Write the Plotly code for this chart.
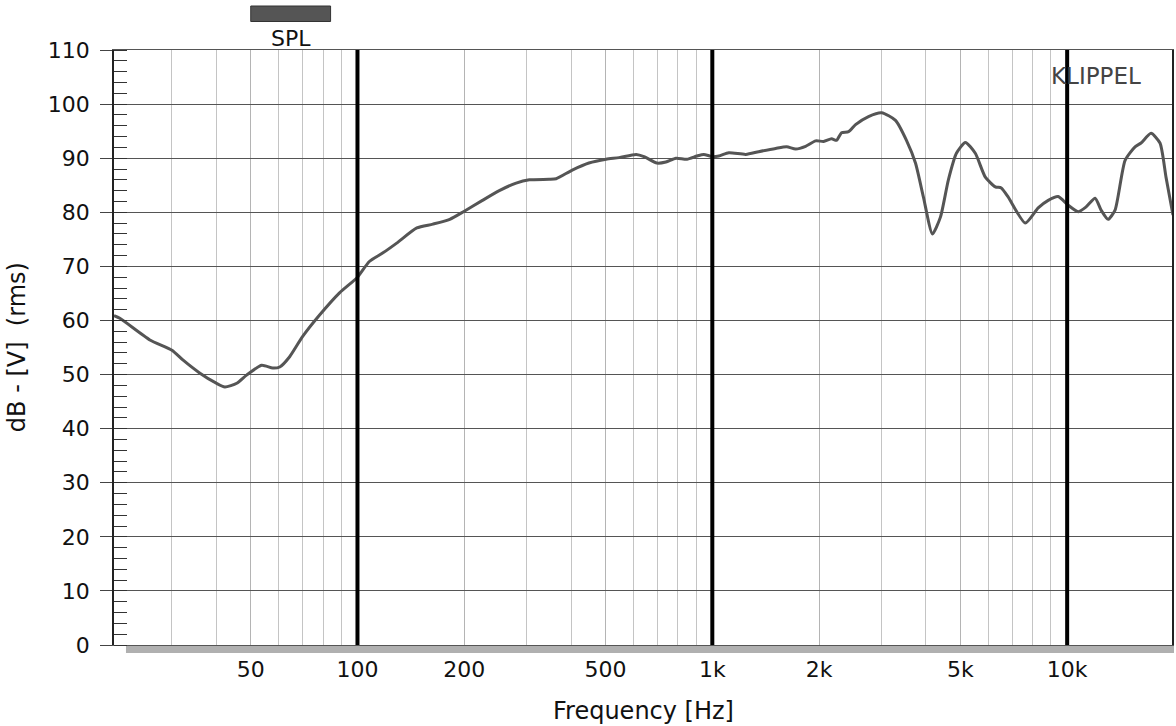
import math
import plotly.graph_objects as go

# ---- data ----
FREQ_HZ = [20.6, 21.4, 26.0, 30.0, 32.2, 35.9, 40.0, 42.3, 45.7, 48.7,
           53.7, 57.7, 60.4, 64.4, 70.0, 78.2, 89.0, 100, 108, 118,
           129, 147, 163, 182, 200, 225, 251, 280, 305, 347,
           363, 403, 449, 502, 546, 610, 642, 698, 740, 790,
           848, 905, 946, 997, 1043, 1113, 1243, 1351, 1509, 1620,
           1718, 1832, 1955, 2059, 2168, 2240, 2313, 2421, 2533, 2755,
           3000, 3283, 3525, 3737, 3935, 4172, 4394, 4627, 4874, 5166,
           5510, 5880, 6274, 6521, 6823, 7620, 8286, 8843, 9434, 10066,
           10740, 11308, 11991, 12463, 13041, 13646, 14563, 15535, 16152, 17233,
           18266, 18991, 19870]
SPL_DB = [60.9, 60.4, 56.4, 54.5, 52.7, 50.3, 48.4, 47.7, 48.4, 49.9,
          51.7, 51.2, 51.4, 53.3, 57.0, 61.0, 65.1, 68.0, 70.9, 72.5,
          74.3, 77.1, 77.8, 78.7, 80.2, 82.2, 84.0, 85.4, 86.0, 86.1,
          86.2, 87.8, 89.1, 89.8, 90.1, 90.7, 90.3, 89.1, 89.3, 90.0,
          89.8, 90.4, 90.7, 90.3, 90.4, 91.0, 90.7, 91.2, 91.8, 92.1,
          91.7, 92.2, 93.2, 93.1, 93.6, 93.3, 94.7, 94.9, 96.2, 97.7,
          98.4, 97.0, 93.3, 89.1, 82.8, 76.0, 79.1, 86.0, 90.9, 92.9,
          90.9, 86.5, 84.7, 84.5, 82.8, 78.0, 80.8, 82.2, 82.9, 81.3,
          80.1, 81.0, 82.6, 80.4, 78.7, 80.4, 89.6, 92.1, 92.8, 94.6,
          92.8, 86.5, 79.5]

X_TICK_VALS = [50, 100, 200, 500, 1000, 2000, 5000, 10000]
X_TICK_TEXT = ["50", "100", "200", "500", "1k", "2k", "5k", "10k"]
X_MINOR_VALS = [30, 40, 60, 70, 80, 90,
                300, 400, 600, 700, 800, 900,
                3000, 4000, 6000, 7000, 8000, 9000]
DECADE_LINES = [100, 1000, 10000]
X_RANGE_HZ = [20.6, 19745]
Y_RANGE = [0, 110]

SERIES_NAME = "SPL"
FONT = "DejaVu Sans"
CURVE_COLOR = "#555555"

W, H = 1176, 726
ML, MR, MT, MB = 114, 2, 50, 81
PW, PH = W - ML - MR, H - MT - MB


def px(xp):
    return (xp - ML) / PW


def py(yp):
    return (H - MB - yp) / PH


fig = go.Figure()

fig.add_trace(go.Scatter(
    x=FREQ_HZ, y=SPL_DB, mode="lines", name=SERIES_NAME,
    line=dict(color=CURVE_COLOR, width=3, shape="spline", smoothing=0.6),
    showlegend=False, hoverinfo="skip"))

# decade grid lines (thick black), drawn above the curve
dx, dy = [], []
for f in DECADE_LINES:
    dx += [f, f, None]
    dy += [Y_RANGE[0], Y_RANGE[1], None]
fig.add_trace(go.Scatter(x=dx, y=dy, mode="lines",
                         line=dict(color="#000000", width=4),
                         showlegend=False, hoverinfo="skip"))

fig.update_layout(
    width=W, height=H,
    margin=dict(l=ML, r=MR, t=MT, b=MB, pad=0),
    paper_bgcolor="white", plot_bgcolor="white",
    font=dict(family=FONT, size=22, color="#111111"),
    xaxis=dict(
        type="log",
        range=[math.log10(X_RANGE_HZ[0]), math.log10(X_RANGE_HZ[1])],
        tickvals=X_TICK_VALS, ticktext=X_TICK_TEXT,
        ticks="", ticklabelstandoff=5,
        showgrid=True, gridcolor="#b4b4b4", gridwidth=1,
        minor=dict(tickvals=X_MINOR_VALS, showgrid=True,
                   gridcolor="#c4c4c4", gridwidth=1, ticks=""),
        showline=True, linecolor="#555555", linewidth=1, mirror=True,
        zeroline=False,
        tickfont=dict(family=FONT, size=22, color="#111111"),
    ),
    yaxis=dict(
        range=Y_RANGE, dtick=10, tick0=0,
        ticks="outside", ticklen=12, tickcolor="#444444", tickwidth=1,
        ticklabelstandoff=6,
        showgrid=True, gridcolor="#555555", gridwidth=1,
        minor=dict(dtick=2, ticks="inside", ticklen=13,
                   tickcolor="#333333", tickwidth=1, showgrid=False),
        showline=True, linecolor="#222222", linewidth=1.5, mirror=True,
        zeroline=False,
        tickfont=dict(family=FONT, size=22, color="#111111"),
    ),
    showlegend=False,
)

# gray band under the x axis
fig.add_shape(type="rect", xref="paper", yref="paper",
              x0=px(126), x1=px(1176), y0=py(653), y1=py(645),
              fillcolor="#b0b0b0", line=dict(width=0), layer="below")

# legend swatch
fig.add_shape(type="rect", xref="paper", yref="paper",
              x0=px(251), x1=px(331), y0=py(21.5), y1=py(6),
              fillcolor="#555555", line=dict(color="#333333", width=1))
fig.add_annotation(text=SERIES_NAME, xref="paper", yref="paper",
                   x=px(291), y=py(38), xanchor="center", yanchor="middle",
                   showarrow=False, font=dict(family=FONT, size=22, color="#111111"))

fig.add_annotation(text="KLIPPEL", xref="paper", yref="paper",
                   x=px(1098), y=py(76), xanchor="center", yanchor="middle",
                   showarrow=False, font=dict(family=FONT, size=23, color="#444444"))

fig.add_annotation(text="Frequency [Hz]", xref="paper", yref="paper",
                   x=px(644), y=py(711), xanchor="center", yanchor="middle",
                   showarrow=False, font=dict(family=FONT, size=24, color="#111111"))

fig.add_annotation(text="dB - [V]  (rms)", xref="paper", yref="paper",
                   x=px(17), y=py(347), xanchor="center", yanchor="middle",
                   textangle=-90,
                   showarrow=False, font=dict(family=FONT, size=24, color="#111111"))

fig.write_html(
    "out.html",
    config={"displayModeBar": False},
    post_script="document.body.style.margin='0px';"
                "document.body.style.padding='0px';"
                "document.body.style.overflow='hidden';")
